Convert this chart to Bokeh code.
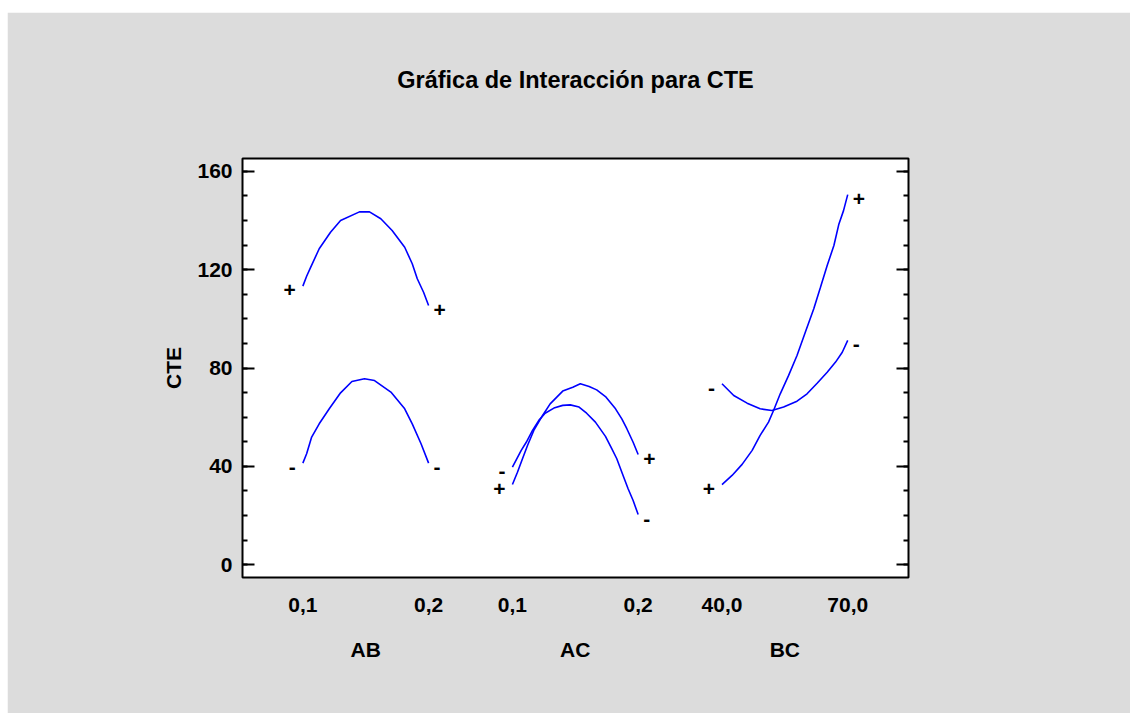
from bokeh.plotting import figure
from bokeh.models import Range1d, LinearAxis, FixedTicker, Spacer, CustomJSTickFormatter
from bokeh.layouts import column, row
from bokeh.core.properties import value
from bokeh.embed import file_html
from bokeh.resources import INLINE

FONT = "Liberation Sans"
PANEL_BG = "#dcdcdc"
LINE_COLOR = "#0000ff"

TITLE = "Gráfica de Interacción para CTE"
Y_LABEL = "CTE"

# ---- AB interaction: x = A, one curve per level of B ----
ab_x_plus = [0.100, 0.103, 0.106, 0.113, 0.122, 0.130, 0.145, 0.153, 0.162, 0.171, 0.181, 0.187, 0.191, 0.196, 0.200]
ab_y_plus = [113.3, 117.3, 120.7, 128.5, 135.2, 140.0, 143.5, 143.5, 140.7, 135.9, 129.1, 122.4, 116.3, 110.8, 105.4]
ab_x_minus = [0.100, 0.103, 0.107, 0.113, 0.121, 0.130, 0.139, 0.149, 0.157, 0.170, 0.181, 0.187, 0.194, 0.200]
ab_y_minus = [41.3, 45.1, 51.9, 57.3, 63.4, 69.9, 74.5, 75.6, 74.9, 70.2, 63.4, 57.3, 49.2, 41.3]

# ---- AC interaction: x = A, one curve per level of C ----
ac_x_plus = [0.100, 0.104, 0.108, 0.112, 0.117, 0.124, 0.130, 0.140, 0.148, 0.154, 0.161, 0.167, 0.174, 0.182, 0.187, 0.191, 0.196, 0.200]
ac_y_plus = [32.6, 37.6, 43.1, 48.5, 54.6, 60.7, 65.4, 70.6, 72.2, 73.6, 72.5, 71.1, 68.4, 63.4, 59.3, 55.3, 49.8, 44.8]
ac_x_minus = [0.100, 0.107, 0.111, 0.116, 0.121, 0.126, 0.133, 0.140, 0.146, 0.153, 0.159, 0.166, 0.174, 0.179, 0.183, 0.188, 0.192, 0.196, 0.200]
ac_y_minus = [39.7, 46.5, 49.8, 54.6, 58.7, 61.6, 63.7, 64.8, 65.0, 64.1, 61.6, 58.0, 52.2, 47.2, 43.1, 36.3, 30.9, 26.1, 20.4]

# ---- BC interaction: x = B, one curve per level of C ----
bc_x_plus = [40.0, 42.4, 44.8, 47.2, 49.1, 51.1, 52.3, 53.9, 55.9, 57.9, 59.9, 61.9, 63.5, 65.1, 66.7, 67.9, 69.0, 70.0]
bc_y_plus = [32.6, 36.3, 40.8, 46.5, 52.6, 58.0, 62.7, 69.5, 77.0, 85.1, 94.6, 104.1, 112.8, 121.7, 129.8, 138.6, 144.0, 150.5]
bc_x_minus = [40.0, 42.8, 46.0, 49.1, 51.9, 54.7, 57.9, 60.3, 62.7, 65.1, 67.1, 68.7, 70.0]
bc_y_minus = [73.6, 68.8, 65.7, 63.4, 62.7, 64.1, 66.5, 69.5, 73.8, 78.3, 82.4, 86.4, 91.2]

# factor names, low/high settings and their tick labels
factor_names = ["AB", "AC", "BC"]
factor_lows = [0.1, 0.1, 40.0]
factor_highs = [0.2, 0.2, 70.0]
tick_labels = ["0,1", "0,2", "0,1", "0,2", "40,0", "70,0"]
level_marks = ["+", "-"]

y_ticks = [0, 40, 80, 120, 160]

# each factor panel occupies SPAN units of the shared x axis, panels GAP apart
SPAN = 3
GAP = 2
offsets = [i * (SPAN + GAP) for i in range(len(factor_names))]


def to_axis(xs, lo, hi, off):
    return [off + SPAN * (x - lo) / (hi - lo) for x in xs]


curves = [
    [(ab_x_plus, ab_y_plus), (ab_x_minus, ab_y_minus)],
    [(ac_x_plus, ac_y_plus), (ac_x_minus, ac_y_minus)],
    [(bc_x_plus, bc_y_plus), (bc_x_minus, bc_y_minus)],
]

p = figure(
    width=1123, height=701,
    x_range=Range1d(-1.44, 14.45), y_range=Range1d(-5.2, 165.2),
    output_backend="svg", toolbar_location=None,
    min_border_left=235, min_border_right=222,
    min_border_top=146, min_border_bottom=136,
    background_fill_color="white", border_fill_color=PANEL_BG,
    outline_line_color="black", outline_line_width=2,
)
p.grid.visible = False
xax = p.xaxis[0]
yax = p.yaxis[0]

# ---- curves and +/- level marks ----
start_x, start_y, start_t = [], [], []
end_x, end_y, end_t = [], [], []
for i, pair in enumerate(curves):
    for (xs, ys), mark in zip(pair, level_marks):
        ax = to_axis(xs, factor_lows[i], factor_highs[i], offsets[i])
        p.line(ax, ys, line_color=LINE_COLOR, line_width=1.6)
        start_x.append(ax[0]); start_y.append(ys[0]); start_t.append(mark)
        end_x.append(ax[-1]); end_y.append(ys[-1]); end_t.append(mark)

mark_style = dict(text_font=value(FONT), text_font_style="bold", text_font_size="21px",
                  text_color="black", text_baseline="middle", y_offset=4)
p.text(start_x, start_y, text=start_t, text_align="right", x_offset=-7, **mark_style)
p.text(end_x, end_y, text=end_t, text_align="left", x_offset=5, **mark_style)

# ---- left axis ----
yax.ticker = FixedTicker(ticks=y_ticks, minor_ticks=list(range(0, 170, 10)))
yax.axis_line_color = None
yax.major_tick_in = 12
yax.major_tick_out = 0
yax.minor_tick_in = 5
yax.minor_tick_out = 0
yax.major_tick_line_width = 2
yax.minor_tick_line_width = 2
yax.major_label_standoff = 10
yax.major_label_text_font = FONT
yax.major_label_text_font_style = "bold"
yax.major_label_text_font_size = "21px"
yax.major_label_text_color = "black"
yax.axis_label = Y_LABEL
yax.axis_label_text_font = FONT
yax.axis_label_text_font_style = "bold"
yax.axis_label_text_font_size = "21px"
yax.axis_label_text_color = "black"
yax.axis_label_standoff = 9

# ---- right axis: ticks only ----
rax = LinearAxis(
    ticker=FixedTicker(ticks=y_ticks, minor_ticks=list(range(0, 170, 10))),
    formatter=CustomJSTickFormatter(code="return ''"),
    axis_line_color=None,
    major_tick_in=12, major_tick_out=0, minor_tick_in=5, minor_tick_out=0,
    major_tick_line_width=2, minor_tick_line_width=2,
)
p.add_layout(rax, "right")

# ---- bottom axis: factor settings ----
tick_pos = []
for off in offsets:
    tick_pos += [off, off + SPAN]
xax.ticker = FixedTicker(ticks=tick_pos, minor_ticks=[])
xax.major_label_overrides = {t: lab for t, lab in zip(tick_pos, tick_labels)}
xax.axis_line_color = None
xax.major_tick_line_color = None
xax.minor_tick_line_color = None
xax.major_tick_in = 0
xax.major_tick_out = 0
xax.major_label_standoff = 20
xax.major_label_text_font = FONT
xax.major_label_text_font_style = "bold"
xax.major_label_text_font_size = "21px"
xax.major_label_text_color = "black"

# ---- second bottom axis: factor names centred under each panel ----
name_pos = [off + SPAN / 2 for off in offsets]
nax = LinearAxis(
    ticker=FixedTicker(ticks=name_pos, minor_ticks=[]),
    major_label_overrides={t: n for t, n in zip(name_pos, factor_names)},
    axis_line_color=None, major_tick_line_color=None, minor_tick_line_color=None,
    major_tick_in=0, major_tick_out=0, major_label_standoff=23,
    major_label_text_font=FONT, major_label_text_font_style="bold",
    major_label_text_font_size="21px", major_label_text_color="black",
)
p.add_layout(nax, "below")

# ---- chart title, carried by a tick-less axis above the frame ----
tax = LinearAxis(
    ticker=FixedTicker(ticks=[], minor_ticks=[]),
    axis_line_color=None, major_tick_line_color=None, minor_tick_line_color=None,
    major_tick_in=0, major_tick_out=0, minor_tick_in=0, minor_tick_out=0,
    major_label_standoff=0,
    axis_label=TITLE, axis_label_standoff=66,
    axis_label_text_font=FONT, axis_label_text_font_style="bold",
    axis_label_text_font_size="23.5px", axis_label_text_color="black",
)
p.add_layout(tax, "above")

page = column(Spacer(height=12), row(Spacer(width=7), p))
open("out.html", "w").write(file_html(page, INLINE))
